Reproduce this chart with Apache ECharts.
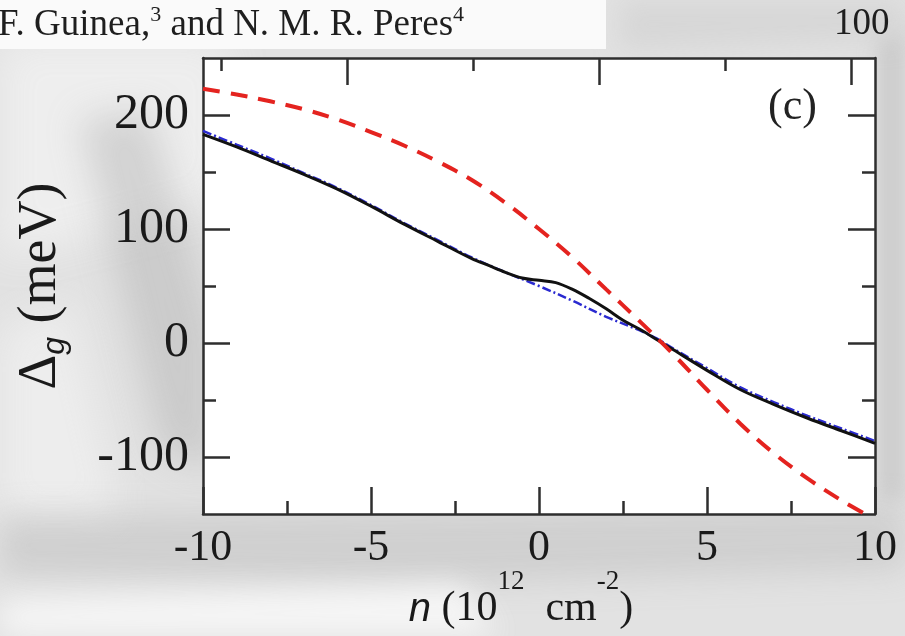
<!DOCTYPE html>
<html>
<head>
<meta charset="utf-8">
<script src="https://cdn.jsdelivr.net/npm/echarts@6/dist/echarts.min.js"></script>
<style>
  html, body { margin: 0; padding: 0; background: #e2e2e2; }
  #chart { width: 905px; height: 636px; }
</style>
</head>
<body>
<div id="chart"></div>
<script>
// Carrier density n (10^12 cm^-2) and gap values Δg (meV) for the three curves
const redN   = [-10, -9, -8, -7, -6, -5, -4, -3, -2, -1, 0, 1, 2, 3, 4, 5, 6, 7, 8, 9, 10];
const redGap = [223, 218, 212, 205, 196, 185, 173, 159, 143, 123, 100, 75, 47, 19, -10, -41, -71, -97, -119, -138, -155];

const blackN   = [-10, -9, -8, -7, -6, -5, -4, -3, -2, -1.5, -1, -0.5, 0, 0.5, 1, 1.5, 2, 2.5, 3, 3.5, 4, 5, 6, 7, 8, 9, 10];
const blackGap = [183, 172, 160, 148, 135, 120, 104, 89, 74, 68, 62, 57, 55, 53, 47, 39, 30, 20, 12, 3, -6, -24, -41, -54, -66, -77, -88];

const blueN   = [-10, -9, -8, -7, -6, -5, -4, -3, -2, -1, 0, 1, 2, 3, 3.5, 4, 5, 6, 7, 8, 9, 10];
const blueGap = [186, 174, 162, 149, 136, 121, 105, 90, 75, 62, 50, 37, 23, 11, 4, -5, -22, -39, -52, -64, -75, -86];

// Axis ticks and labels
const xMajorTicks = [-10, -5, 0, 5, 10];
const yMajorTicks = [-100, 0, 100, 200];
const yMinorTicks = [-50, 50, 150];
const topMajorTicks = [-5.7, 1.8, 9.3];
const topMinorTicks = [-9.45, -1.95, 5.55];

const SERIF = '"Liberation Serif", "Times New Roman", serif';
const SANS = '"Liberation Sans", Arial, sans-serif';
const AX = '#2e2e2e';

const zip = (xs, ys) => xs.map((x, i) => [x, ys[i]]);

// Soft-edged backdrop shape: the polygon itself sits off-canvas and only its blurred shadow lands on the page
const SHIFT = 2000;
function softShape(points, color, blur) {
  return {
    type: 'polygon', z: -9, silent: true,
    shape: { points: points.map(p => [p[0] - SHIFT, p[1]]) },
    style: { fill: '#000', shadowColor: color, shadowBlur: blur, shadowOffsetX: SHIFT }
  };
}

const chart = echarts.init(document.getElementById('chart'), null, { renderer: 'canvas' });

function tickAxis(pos, vals, len, withLine) {
  return {
    type: 'value', position: pos, min: -10, max: 10,
    axisLine: { show: withLine, onZero: false, lineStyle: { color: AX, width: 2.5 } },
    axisTick: { show: true, inside: true, length: len, customValues: vals, lineStyle: { color: AX, width: 2.5 } },
    axisLabel: { show: false },
    splitLine: { show: false }
  };
}
function yTickAxis(pos, vals, len, withLine) {
  return {
    type: 'value', position: pos, min: -150, max: 250,
    axisLine: { show: withLine, onZero: false, lineStyle: { color: AX, width: 2.5 } },
    axisTick: { show: true, inside: true, length: len, customValues: vals, lineStyle: { color: AX, width: 2.5 } },
    axisLabel: { show: false },
    splitLine: { show: false }
  };
}

const option = {
  backgroundColor: '#e2e2e2',
  animation: false,
  graphic: [
    softShape([[0, 40], [230, 40], [230, 200], [0, 260]], 'rgba(240,240,240,0.9)', 40),
    softShape([[80, 120], [150, 110], [215, 330], [215, 470], [160, 450]], 'rgba(160,160,160,0.35)', 35),
    softShape([[0, 330], [70, 300], [120, 520], [0, 520]], 'rgba(245,245,245,0.6)', 40),
    softShape([[0, 515], [905, 505], [905, 570], [380, 585], [0, 575]], 'rgba(175,175,175,0.35)', 30),
    softShape([[0, 600], [460, 585], [500, 636], [0, 636]], 'rgba(248,248,248,0.9)', 30),
    softShape([[878, 40], [905, 30], [905, 500], [878, 500]], 'rgba(175,175,175,0.45)', 20),
    softShape([[620, 0], [905, 0], [905, 40], [620, 50]], 'rgba(205,205,205,0.5)', 25),
    { type: 'rect', z: -8, silent: true, shape: { x: 0, y: 0, width: 606, height: 49 }, style: { fill: '#fafafa' } },
    {
      type: 'text', left: -2, top: 4, z: 10,
      style: {
        text: '{a|F. Guinea,}{s|3}{a| and N. M. R. Peres}{s|4}',
        rich: {
          a: { fontFamily: SERIF, fontSize: 37, lineHeight: 42, fill: '#1e1e1e' },
          s: { fontFamily: SERIF, fontSize: 22, lineHeight: 24, verticalAlign: 'top', fill: '#1e1e1e' }
        }
      }
    },
    { type: 'text', left: 834, top: 6, z: 10, style: { text: '100', fontFamily: SERIF, fontSize: 37, fill: '#1e1e1e' } },
    { type: 'text', left: 768, top: 85, z: 10, style: { text: '(c)', fontFamily: SERIF, fontSize: 44, fill: '#222' } }
  ],
  grid: {
    left: 203, right: 30, top: 58, bottom: 122,
    outerBoundsMode: 'none',
    show: true, backgroundColor: '#ffffff', borderWidth: 0
  },
  xAxis: [
    {
      type: 'value', position: 'bottom', min: -10, max: 10, interval: 5,
      axisLine: { show: true, onZero: false, lineStyle: { color: AX, width: 2.5 } },
      axisTick: { show: true, inside: true, length: 27, lineStyle: { color: AX, width: 2.5 } },
      minorTick: { show: true, splitNumber: 2, length: 13, lineStyle: { color: AX, width: 2.5 } },
      axisLabel: { show: true, margin: 12, fontFamily: SERIF, fontSize: 44, color: '#1a1a1a',
        customValues: xMajorTicks },
      splitLine: { show: false }, minorSplitLine: { show: false },
      name: '{i|n}{r| (10}{s|12}{r|  cm}{s|-2}{r|)}',
      nameLocation: 'middle', nameGap: 54, nameMoveOverlap: false,
      nameTextStyle: {
        padding: [0, 36, 0, 0],
        rich: {
          i: { fontFamily: SANS, fontStyle: 'italic', fontSize: 40, lineHeight: 62, verticalAlign: 'bottom', color: '#1a1a1a' },
          r: { fontFamily: SERIF, fontSize: 42, lineHeight: 62, verticalAlign: 'bottom', color: '#1a1a1a' },
          s: { fontFamily: SERIF, fontSize: 27, lineHeight: 28, verticalAlign: 'top', color: '#1a1a1a' }
        }
      }
    },
    tickAxis('top', topMajorTicks, 27, true),
    tickAxis('top', topMinorTicks, 13, false)
  ],
  yAxis: [
    {
      type: 'value', position: 'left', min: -150, max: 250,
      axisLine: { show: true, onZero: false, lineStyle: { color: AX, width: 2.5 } },
      axisTick: { show: true, inside: true, length: 27, customValues: yMajorTicks, lineStyle: { color: AX, width: 2.5 } },
      axisLabel: { show: true, margin: 14, fontFamily: SERIF, fontSize: 50, color: '#1a1a1a', customValues: yMajorTicks },
      splitLine: { show: false },
      name: '{r|Δ}{g|g}{r| (meV)}',
      nameLocation: 'middle', nameGap: 132, nameRotate: 90,
      nameTextStyle: {
        rich: {
          r: { fontFamily: SERIF, fontSize: 54, lineHeight: 60, color: '#1a1a1a' },
          g: { fontFamily: SANS, fontStyle: 'italic', fontSize: 32, lineHeight: 30, verticalAlign: 'bottom', color: '#1a1a1a' }
        }
      }
    },
    yTickAxis('left', yMinorTicks, 13, false),
    yTickAxis('right', yMajorTicks, 27, true),
    yTickAxis('right', yMinorTicks, 13, false)
  ],
  series: [
    {
      name: 'blue', type: 'line', xAxisIndex: 0, yAxisIndex: 0,
      data: zip(blueN, blueGap), showSymbol: false, smooth: 0.35, clip: true,
      lineStyle: { color: '#2a2ad0', width: 2.5, type: [9, 3, 2, 3] }, z: 2
    },
    {
      name: 'black', type: 'line', xAxisIndex: 0, yAxisIndex: 0,
      data: zip(blackN, blackGap), showSymbol: false, smooth: 0.35, clip: true,
      lineStyle: { color: '#111111', width: 3 }, z: 3
    },
    {
      name: 'red', type: 'line', xAxisIndex: 0, yAxisIndex: 0,
      data: zip(redN, redGap), showSymbol: false, smooth: 0.35, clip: true,
      lineStyle: { color: '#e4231f', width: 4, type: [17, 11] }, z: 4
    }
  ]
};

chart.setOption(option);
</script>
</body>
</html>
